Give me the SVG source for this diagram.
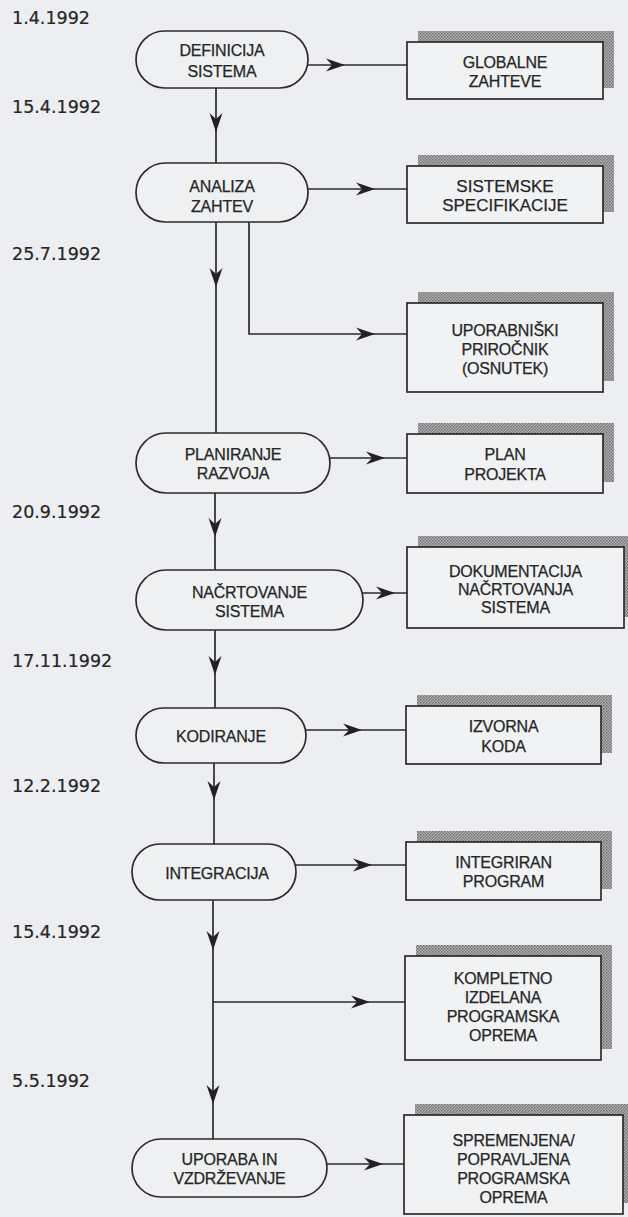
<svg xmlns="http://www.w3.org/2000/svg" xmlns:xlink="http://www.w3.org/1999/xlink" width="628" height="1217" viewBox="0 0 628 1217">
<style>
.bg{fill:#eceef1}
.st{fill:#eef0f2;stroke:#2b2b2b;stroke-width:1.7}
.bx{fill:#f1f2f4;stroke:#2b2b2b;stroke-width:1.7}
.sh{fill:url(#hatch)}
.ln{fill:none;stroke:#2b2b2b;stroke-width:1.7}
.ah{fill:#222}
.t{font-family:"Liberation Sans",Arial,sans-serif;font-size:16px;letter-spacing:-0.2px;fill:#262626;stroke:#262626;stroke-width:0.25;text-anchor:middle}
.tb{font-family:"Liberation Sans",Arial,sans-serif;font-size:17px;fill:#262626;stroke:#262626;stroke-width:0.25;text-anchor:middle}
.d{font-family:"DejaVu Sans",sans-serif;font-size:17.5px;fill:#262626;stroke:#262626;stroke-width:0.2}
</style>
<defs>
<pattern id="hatch" width="3" height="3" patternUnits="userSpaceOnUse">
<rect width="3" height="3" fill="#b4b4b4"/>
<rect width="1.5" height="1.5" fill="#6e6e6e"/>
<rect x="1.5" y="1.5" width="1.5" height="1.5" fill="#7a7a7a"/>
</pattern>
<path id="ah" d="M0,0 L-19,-6.5 L-13,0 L-19,6.5 Z"/>
</defs>
<rect class="bg" x="0" y="0" width="628" height="1217"/>

<g id="dates">
<text class="d" x="12" y="24">1.4.1992</text>
<text class="d" x="12" y="113">15.4.1992</text>
<text class="d" x="12" y="260">25.7.1992</text>
<text class="d" x="12" y="518">20.9.1992</text>
<text class="d" x="12" y="667">17.11.1992</text>
<text class="d" x="12" y="792">12.2.1992</text>
<text class="d" x="12" y="938">15.4.1992</text>
<text class="d" x="12" y="1087">5.5.1992</text>
</g>

<g id="connectors">
<path class="ln" d="M216,88 V163"/>
<use href="#ah" class="ah" transform="translate(216,132) rotate(90)"/>
<path class="ln" d="M216,222 V433"/>
<use href="#ah" class="ah" transform="translate(216,287) rotate(90)"/>
<path class="ln" d="M215,493 V570"/>
<use href="#ah" class="ah" transform="translate(215,537) rotate(90)"/>
<path class="ln" d="M215,630 V708"/>
<use href="#ah" class="ah" transform="translate(215,675) rotate(90)"/>
<path class="ln" d="M214,763 V844"/>
<use href="#ah" class="ah" transform="translate(214,800) rotate(90)"/>
<path class="ln" d="M213,900 V1139"/>
<use href="#ah" class="ah" transform="translate(213,950) rotate(90)"/>
<use href="#ah" class="ah" transform="translate(213,1104) rotate(90)"/>

<path class="ln" d="M305,65 H407"/>
<use href="#ah" class="ah" transform="translate(345,65)"/>
<path class="ln" d="M305,189 H407"/>
<use href="#ah" class="ah" transform="translate(375,189)"/>
<path class="ln" d="M249,222 V334 H407"/>
<use href="#ah" class="ah" transform="translate(375,334)"/>
<path class="ln" d="M327,458 H407"/>
<use href="#ah" class="ah" transform="translate(385,458)"/>
<path class="ln" d="M360,593 H407"/>
<use href="#ah" class="ah" transform="translate(395,593)"/>
<path class="ln" d="M303,730 H406"/>
<use href="#ah" class="ah" transform="translate(362,730)"/>
<path class="ln" d="M293,865 H406"/>
<use href="#ah" class="ah" transform="translate(372,865)"/>
<path class="ln" d="M213,1002 H405"/>
<use href="#ah" class="ah" transform="translate(370,1002)"/>
<path class="ln" d="M324,1164 H404"/>
<use href="#ah" class="ah" transform="translate(383,1164)"/>
</g>

<g id="n-definicija">
<rect class="st" x="136" y="31" width="172" height="57" rx="28.5"/>
<text class="t" x="222" y="56">DEFINICIJA</text>
<text class="t" x="222" y="77">SISTEMA</text>
</g>
<g id="n-analiza">
<rect class="st" x="136" y="163" width="172" height="59" rx="29.5"/>
<text class="t" x="222" y="192">ANALIZA</text>
<text class="t" x="222" y="212">ZAHTEV</text>
</g>
<g id="n-planiranje">
<rect class="st" x="136" y="433" width="194" height="60" rx="30"/>
<text class="t" x="233" y="460">PLANIRANJE</text>
<text class="t" x="233" y="479">RAZVOJA</text>
</g>
<g id="n-nacrtovanje">
<rect class="st" x="136" y="570" width="227" height="60" rx="30"/>
<text class="t" x="249.5" y="598">NAČRTOVANJE</text>
<text class="t" x="249.5" y="617">SISTEMA</text>
</g>
<g id="n-kodiranje">
<rect class="st" x="136" y="708" width="170" height="55" rx="27.5"/>
<text class="t" x="221" y="742">KODIRANJE</text>
</g>
<g id="n-integracija">
<rect class="st" x="132" y="844" width="164" height="56" rx="28"/>
<text class="t" x="217" y="879">INTEGRACIJA</text>
</g>
<g id="n-uporaba">
<rect class="st" x="132" y="1139" width="195" height="58" rx="29"/>
<text class="t" x="229.5" y="1165">UPORABA IN</text>
<text class="t" x="229.5" y="1184">VZDRŽEVANJE</text>
</g>

<g id="b-globalne">
<rect class="sh" x="418" y="31" width="196" height="57"/>
<rect class="bx" x="407" y="42" width="196" height="57"/>
<text class="t" x="505" y="68">GLOBALNE</text>
<text class="t" x="505" y="87">ZAHTEVE</text>
</g>
<g id="b-sistemske">
<rect class="sh" x="418" y="155" width="196" height="57"/>
<rect class="bx" x="407" y="166" width="196" height="57"/>
<text class="tb" x="505" y="192">SISTEMSKE</text>
<text class="tb" x="505" y="211">SPECIFIKACIJE</text>
</g>
<g id="b-uporabniski">
<rect class="sh" x="418" y="292" width="196" height="89"/>
<rect class="bx" x="407" y="303" width="196" height="89"/>
<text class="t" x="505" y="336">UPORABNIŠKI</text>
<text class="t" x="505" y="355">PRIROČNIK</text>
<text class="t" x="505" y="374">(OSNUTEK)</text>
</g>
<g id="b-plan">
<rect class="sh" x="418" y="423" width="196" height="59"/>
<rect class="bx" x="407" y="434" width="196" height="59"/>
<text class="t" x="505" y="460">PLAN</text>
<text class="t" x="505" y="480">PROJEKTA</text>
</g>
<g id="b-dokumentacija">
<rect class="sh" x="418" y="536" width="217" height="81"/>
<rect class="bx" x="407" y="547" width="217" height="81"/>
<text class="t" x="515.5" y="577">DOKUMENTACIJA</text>
<text class="t" x="515.5" y="595">NAČRTOVANJA</text>
<text class="t" x="515.5" y="613">SISTEMA</text>
</g>
<g id="b-izvorna">
<rect class="sh" x="417" y="695" width="195" height="58"/>
<rect class="bx" x="406" y="706" width="195" height="58"/>
<text class="t" x="503.5" y="732">IZVORNA</text>
<text class="t" x="503.5" y="752">KODA</text>
</g>
<g id="b-integriran">
<rect class="sh" x="417" y="831" width="195" height="58"/>
<rect class="bx" x="406" y="842" width="195" height="58"/>
<text class="t" x="503.5" y="868">INTEGRIRAN</text>
<text class="t" x="503.5" y="887">PROGRAM</text>
</g>
<g id="b-kompletno">
<rect class="sh" x="416" y="945" width="196" height="104"/>
<rect class="bx" x="405" y="956" width="196" height="104"/>
<text class="t" x="503" y="984">KOMPLETNO</text>
<text class="t" x="503" y="1003">IZDELANA</text>
<text class="t" x="503" y="1022">PROGRAMSKA</text>
<text class="t" x="503" y="1041">OPREMA</text>
</g>
<g id="b-spremenjena">
<rect class="sh" x="415" y="1104" width="219" height="99"/>
<rect class="bx" x="404" y="1115" width="219" height="99"/>
<text class="t" x="513.5" y="1146">SPREMENJENA/</text>
<text class="t" x="513.5" y="1165">POPRAVLJENA</text>
<text class="t" x="513.5" y="1184">PROGRAMSKA</text>
<text class="t" x="513.5" y="1203">OPREMA</text>
</g>
</svg>
